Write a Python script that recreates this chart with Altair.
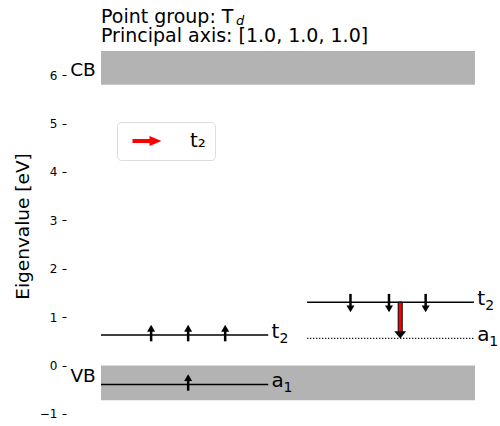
import altair as alt
import pandas as pd

# ---------------- data ----------------
band_names = ["CB", "VB"]
band_bottom = [5.80, -0.72]
band_top = [6.50, 0.0]
band_label_E = [6.10, -0.21]
band_x = [0.0, 1.0]

spin_up_letters = ["a", "t"]
spin_up_subs = ["1", "2"]
spin_up_energy = [-0.39, 0.63]
spin_up_occupied = [True, True]
spin_up_x = [0.0, 0.447]

spin_down_letters = ["a", "t"]
spin_down_subs = ["1", "2"]
spin_down_energy = [0.56, 1.31]
spin_down_occupied = [False, True]
spin_down_x = [0.551, 0.997]

up_electron_x = [0.134, 0.233, 0.332, 0.233]
up_electron_level = [0.63, 0.63, 0.63, -0.39]
down_electron_x = [0.667, 0.770, 0.868]
down_electron_level = [1.31, 1.31, 1.31]

transition_label = ["t₂"]
transition_x = [0.80]
transition_from = [1.31]
transition_to = [0.56]

y_ticks = [-1, 0, 1, 2, 3, 4, 5, 6]

# ---------------- tables ----------------
PX_PER_UNIT = 374.0
ADV = {"t": 8.0, "a": 12.0}

bands = pd.DataFrame({"name": band_names, "y": band_bottom, "y2": band_top,
                      "ly": band_label_E, "x": band_x[0], "x2": band_x[1]})
bands["tx"] = -0.014

levels = pd.DataFrame({
    "letter": spin_up_letters + spin_down_letters,
    "sub": spin_up_subs + spin_down_subs,
    "E": spin_up_energy + spin_down_energy,
    "occ": spin_up_occupied + spin_down_occupied,
    "x": [spin_up_x[0]] * 2 + [spin_down_x[0]] * 2,
    "x2": [spin_up_x[1]] * 2 + [spin_down_x[1]] * 2,
})
levels["lx"] = levels["x2"] + 0.009
levels["sx"] = levels["lx"] + levels["letter"].map(ADV) / PX_PER_UNIT
occ_levels = levels[levels["occ"]]
empty_levels = levels[~levels["occ"]]

up = pd.DataFrame({"x": up_electron_x, "E": up_electron_level})
up["tail"] = up["E"] - 0.13
up["tip"] = up["E"] + 0.21
up["shaft_end"] = up["tip"] - 0.08
down = pd.DataFrame({"x": down_electron_x, "E": down_electron_level})
down["tail"] = down["E"] + 0.17
down["tip"] = down["E"] - 0.21
down["shaft_end"] = down["tip"] + 0.08

trans = pd.DataFrame({"label": transition_label, "x": transition_x,
                      "y": transition_from, "tip": transition_to})
trans["shaft_end"] = trans["tip"] + 0.13

# ---------------- scales ----------------
FONT = "DejaVu Sans"
xs = alt.Scale(domain=[-0.0936, 1.0668], nice=False, zero=False, padding=0)
ys = alt.Scale(domain=[-1.25, 6.5], nice=False, zero=False, padding=0)
X = lambda f: alt.X(f, type="quantitative", scale=xs, axis=None)
Y_plain = lambda f: alt.Y(f, type="quantitative", scale=ys)

y_axis = alt.Axis(values=y_ticks, domain=False, grid=False, ticks=True, tickSize=4,
                  tickColor="black", tickWidth=1, labelFontSize=12, labelColor="black",
                  labelFont=FONT, labelPadding=5, title="Eigenvalue [eV]",
                  titleFont=FONT, titleFontSize=18.5, titleFontWeight="normal",
                  titleColor="black", titleX=-44, titleY=175, titleBaseline="middle",
                  titleAngle=270)

band_layer = alt.Chart(bands).mark_rect(color="#b3b3b3").encode(
    x=X("x"), x2="x2",
    y=alt.Y("y", type="quantitative", scale=ys, axis=y_axis), y2="y2")

band_text = alt.Chart(bands).mark_text(
    align="right", baseline="middle", fontSize=18.5, font=FONT, color="black").encode(
    x=X("tx"), y=Y_plain("ly"), text="name")

level_lines = alt.Chart(occ_levels).mark_rule(color="black", strokeWidth=1.5).encode(
    x=X("x"), x2="x2", y=Y_plain("E"))
empty_lines = alt.Chart(empty_levels).mark_rule(
    color="black", strokeWidth=1.2, strokeDash=[1.2, 1.8]).encode(
    x=X("x"), x2="x2", y=Y_plain("E"))
level_text = alt.Chart(levels).mark_text(
    align="left", baseline="alphabetic", fontSize=20, font=FONT, color="black",
    dy=3).encode(x=X("lx"), y=Y_plain("E"), text="letter")
level_sub = alt.Chart(levels).mark_text(
    align="left", baseline="alphabetic", fontSize=14, font=FONT, color="black",
    dy=8).encode(x=X("sx"), y=Y_plain("E"), text="sub")

UP_HEAD = "M-1,0.85L1,0.85L0,-0.85Z"
DOWN_HEAD = "M-1,-0.85L1,-0.85L0,0.85Z"

up_shaft = alt.Chart(up).mark_rule(color="black", strokeWidth=2.5).encode(
    x=X("x"), y=Y_plain("tail"), y2="shaft_end")
up_head = alt.Chart(up).mark_point(shape=UP_HEAD, filled=True, color="black",
                                   size=64, opacity=1, yOffset=3.4).encode(
    x=X("x"), y=Y_plain("tip"))
down_shaft = alt.Chart(down).mark_rule(color="black", strokeWidth=2.5).encode(
    x=X("x"), y=Y_plain("tail"), y2="shaft_end")
down_head = alt.Chart(down).mark_point(shape=DOWN_HEAD, filled=True, color="black",
                                       size=64, opacity=1, yOffset=-3.4).encode(
    x=X("x"), y=Y_plain("tip"))

LEG_ARROW = "M-1.45,-0.2L0.25,-0.2L0.25,-0.5L1.45,0L0.25,0.5L0.25,0.2L-1.45,0.2Z"
red_shaft = alt.Chart(trans).mark_bar(size=4, stroke="black", strokeWidth=1,
                                      opacity=1).encode(
    x=X("x"), y=Y_plain("y"), y2="shaft_end",
    color=alt.Color("label:N", scale=alt.Scale(domain=transition_label, range=["red"]),
                    legend=alt.Legend(title=None, orient="none", legendX=51, legendY=71,
                                      symbolType=LEG_ARROW, symbolSize=400,
                                      symbolStrokeWidth=0, symbolOpacity=1,
                                      symbolOffset=11, labelOffset=33,
                                      labelExpr="datum.label + '\u00a0\u00a0\u00a0'",
                                      labelFontSize=20, labelFont=FONT,
                                      labelColor="black", padding=9,
                                      fillColor="white", strokeColor="#dddddd",
                                      cornerRadius=4)))
red_head = alt.Chart(trans).mark_point(shape="M-1,-0.6L1,-0.6L0,0.6Z", filled=True,
                                       color="black", size=144, opacity=1,
                                       yOffset=-3.6).encode(
    x=X("x"), y=Y_plain("tip"))

title_df = pd.DataFrame({"t": ["Point group: T", "Principal axis: [1.0, 1.0, 1.0]"],
                         "py": [-28.5, -9.5]})
title_layer = alt.Chart(title_df).mark_text(
    align="left", baseline="alphabetic", fontSize=19, font=FONT, color="black").encode(
    x=alt.value(35), y=alt.Y("py:Q", scale=None), text="t")
sub_df = pd.DataFrame({"t": ["d"]})
sub_layer = alt.Chart(sub_df).mark_text(
    align="left", baseline="alphabetic", fontSize=13, font=FONT, fontStyle="italic",
    color="black").encode(x=alt.value(170), y=alt.value(-26), text="t")

chart = alt.layer(
    band_layer, band_text, level_lines, empty_lines, level_text, level_sub,
    up_shaft, up_head, down_shaft, down_head, red_shaft, red_head,
    title_layer, sub_layer
).properties(
    width=434, height=375,
    autosize=alt.AutoSizeParams(type="none"),
    padding={"left": 66, "top": 51, "right": 0, "bottom": 0},
).configure_view(stroke=None)

chart.save("out.html", embed_options={"renderer": "svg", "actions": False})
